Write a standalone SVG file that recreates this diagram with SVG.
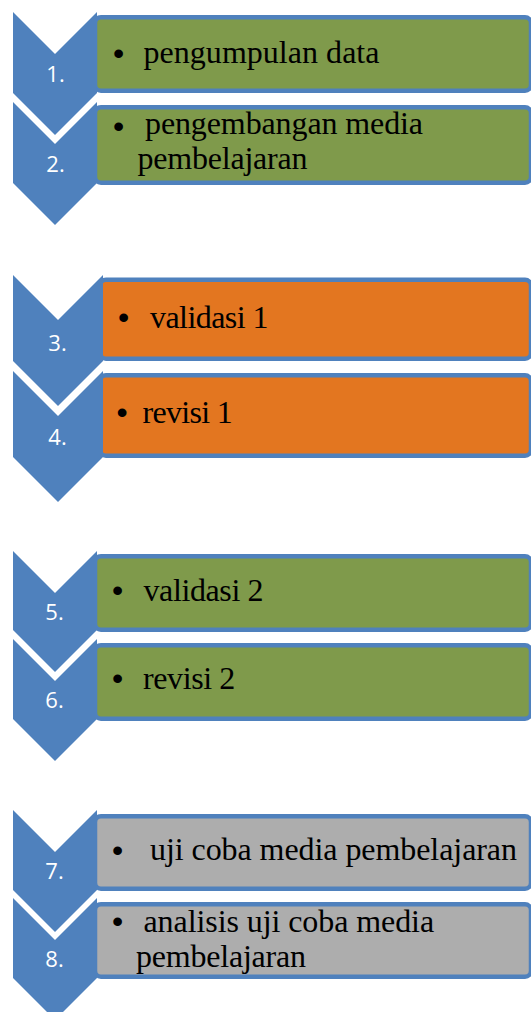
<svg xmlns="http://www.w3.org/2000/svg" width="531" height="1012" viewBox="0 0 531 1012">
<style>
.box{stroke:#4F81BD;stroke-width:4.5}
.green{fill:#7F9A4B}
.orange{fill:#E37620}
.gray{fill:#ADADAD}
.chev{fill:#4F81BD}
.num{font-family:"Open Sans","Liberation Sans",Arial,sans-serif;font-size:22px;fill:#FFFFFF;text-anchor:middle}
.txt{font-family:"Liberation Serif","Times New Roman",serif;font-size:32px;fill:#000000}
.bul{font-family:"Liberation Sans",Arial,sans-serif;font-size:32px;fill:#000000;text-anchor:middle}
</style>
<rect width="531" height="1012" fill="#FFFFFF"/>
<g id="connectors"></g>

<g id="node1">
<rect class="box green" x="95" y="17.25" width="436" height="73.5" rx="6"/>
<polygon class="chev" points="13,12 55,54 97,12 97,93 55,135 13,93"/>
<text class="num" x="55.5" y="82">1.</text>
<text class="bul" x="118.7" y="64">•</text>
<text class="txt" x="143.5" y="63.3" textLength="236">pengumpulan data</text>
</g>

<g id="node2">
<rect class="box green" x="95" y="107.25" width="436" height="75.5" rx="6"/>
<polygon class="chev" points="13,102 55,144 97,102 97,183 55,225 13,183"/>
<text class="num" x="55.5" y="172">2.</text>
<text class="bul" x="118.7" y="136.5">•</text>
<text class="txt" x="145" y="134" textLength="278">pengembangan media</text>
<text class="txt" x="137.5" y="169" textLength="170">pembelajaran</text>
</g>

<g id="node3">
<rect class="box orange" x="100" y="279.75" width="431" height="79" rx="6"/>
<polygon class="chev" points="13,275 58,320 103,275 103,361 58,406 13,361"/>
<text class="num" x="57.5" y="351">3.</text>
<text class="bul" x="123.7" y="327.5">•</text>
<text class="txt" x="150" y="328.3" textLength="118.4">validasi 1</text>
</g>

<g id="node4">
<rect class="box orange" x="100" y="375.25" width="431" height="80.5" rx="6"/>
<polygon class="chev" points="13,371 58,416 103,371 103,457 58,502 13,457"/>
<text class="num" x="57.5" y="445">4.</text>
<text class="bul" x="122" y="422.5">•</text>
<text class="txt" x="142.5" y="423.3" textLength="90.3">revisi 1</text>
</g>

<g id="node5">
<rect class="box green" x="95" y="556.25" width="436" height="73.5" rx="6"/>
<polygon class="chev" points="13,551 55,593 97,551 97,630 55,672 13,630"/>
<text class="num" x="54.5" y="620">5.</text>
<text class="bul" x="117.7" y="600.5">•</text>
<text class="txt" x="143.5" y="600.7" textLength="120">validasi 2</text>
</g>

<g id="node6">
<rect class="box green" x="95" y="645.25" width="436" height="73.5" rx="6"/>
<polygon class="chev" points="13,639 55,681 97,639 97,719 55,761 13,719"/>
<text class="num" x="54.5" y="708">6.</text>
<text class="bul" x="117.7" y="688.5">•</text>
<text class="txt" x="143" y="689.3" textLength="92.3">revisi 2</text>
</g>

<g id="node7">
<rect class="box gray" x="95" y="816.25" width="436" height="72.5" rx="6"/>
<polygon class="chev" points="13,810 55,852 97,810 97,890 55,932 13,890"/>
<text class="num" x="54.5" y="879">7.</text>
<text class="bul" x="117.7" y="860.5">•</text>
<text class="txt" x="150" y="860" textLength="367">uji coba media pembelajaran</text>
</g>

<g id="node8">
<rect class="box gray" x="95" y="904.25" width="436" height="72.5" rx="6"/>
<polygon class="chev" points="13,898 55,940 97,898 97,978 55,1020 13,978"/>
<text class="num" x="54.5" y="967">8.</text>
<text class="bul" x="117.7" y="931.5">•</text>
<text class="txt" x="143.5" y="931.7" textLength="290.6">analisis uji coba media</text>
<text class="txt" x="136" y="966.7" textLength="170">pembelajaran</text>
</g>
</svg>
